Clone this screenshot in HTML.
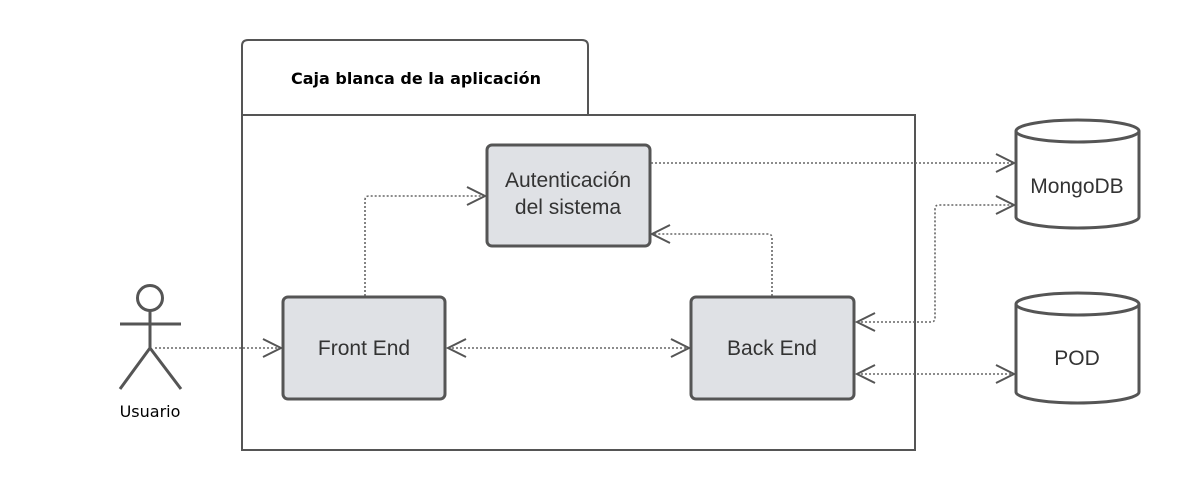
<!DOCTYPE html>
<html><head><meta charset="utf-8"><style>
html,body{margin:0;padding:0;background:#fff;}
svg{display:block;}
</style></head><body>
<svg width="1179" height="490" viewBox="0 0 1179 490" xmlns="http://www.w3.org/2000/svg">
<g fill="none" stroke="#555" stroke-width="2">
  <path d="M242,115 V46 Q242,40 248,40 H582 Q588,40 588,46 V115"/>
  <rect x="242" y="115" width="673" height="335"/>
</g>
<text x="416" y="84" text-anchor="middle" font-family="DejaVu Sans, Liberation Sans, sans-serif" font-weight="bold" font-size="16" fill="#000">Caja blanca de la aplicación</text>

<g fill="none" stroke="#666" stroke-width="1.6" stroke-dasharray="2,2">
  <path d="M155,348 H281"/>
  <path d="M365,296 V200 Q365,196 369,196 H485"/>
  <path d="M448,348 H689"/>
  <path d="M772,296 V238 Q772,234 768,234 H652"/>
  <path d="M651,163 H1014"/>
  <path d="M857,322 H931 Q935,322 935,318 V209 Q935,205 939,205 H1014"/>
  <path d="M857,374 H1014"/>
</g>
<g fill="none" stroke="#555" stroke-width="2">
  <path d="M263,339 L281,348 L263,357"/>
  <path d="M467,187 L485,196 L467,205"/>
  <path d="M466,339 L448,348 L466,357"/>
  <path d="M671,339 L689,348 L671,357"/>
  <path d="M670,225 L652,234 L670,243"/>
  <path d="M996,154 L1014,163 L996,172"/>
  <path d="M996,196 L1014,205 L996,214"/>
  <path d="M875,313 L857,322 L875,331"/>
  <path d="M875,365 L857,374 L875,383"/>
  <path d="M996,365 L1014,374 L996,383"/>
</g>

<g fill="#dfe1e5" stroke="#555" stroke-width="3">
  <rect x="487" y="145" width="163" height="101" rx="5"/>
  <rect x="283" y="297" width="162" height="102" rx="5"/>
  <rect x="691" y="297" width="163" height="102" rx="5"/>
</g>

<g fill="#fff" stroke="#555" stroke-width="3">
  <path d="M1016,131 V217 A61.5,11 0 0 0 1139,217 V131"/>
  <ellipse cx="1077.5" cy="131" rx="61.5" ry="11"/>
  <path d="M1016,304 V392 A61.5,11 0 0 0 1139,392 V304"/>
  <ellipse cx="1077.5" cy="304" rx="61.5" ry="11"/>
</g>

<g font-family="Liberation Sans, Arial, sans-serif" font-size="21" fill="#333" text-anchor="middle">
<text x="568" y="187">Autenticación</text>
<text x="568" y="214">del sistema</text>
<text x="364" y="355">Front End</text>
<text x="772" y="355">Back End</text>
<text x="1077" y="193">MongoDB</text>
<text x="1077" y="365">POD</text>
</g>

<g fill="none" stroke="#555" stroke-width="3">
  <circle cx="150" cy="298" r="12.5"/>
  <path d="M150,311 V348 M120,324 H181 M120,389 L150,348 L181,389"/>
</g>
<text x="150" y="417" text-anchor="middle" font-family="DejaVu Sans, Liberation Sans, sans-serif" font-size="16" fill="#000">Usuario</text>
</svg>
</body></html>
